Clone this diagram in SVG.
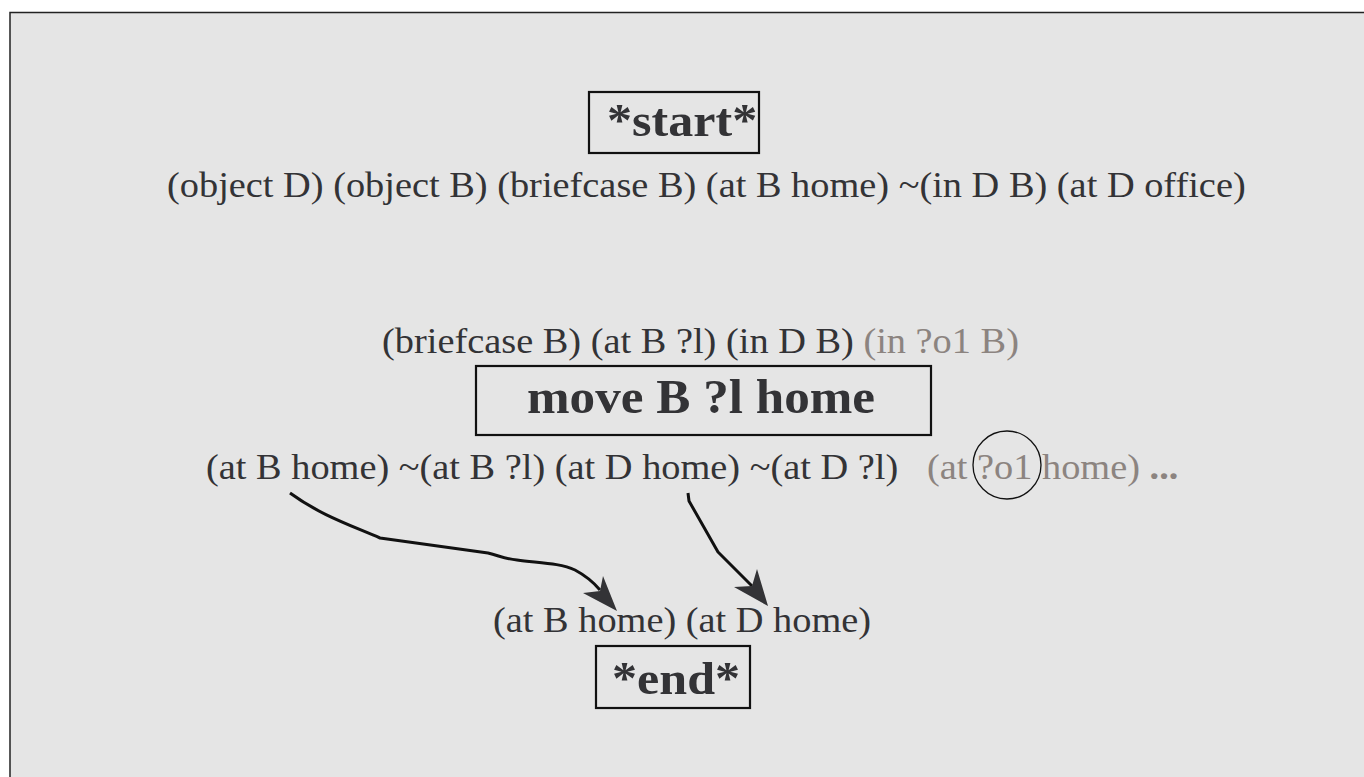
<svg xmlns="http://www.w3.org/2000/svg" width="1364" height="777" viewBox="0 0 1364 777">
<style>
.t{font-family:"Liberation Serif","Times New Roman",serif;font-size:36px;fill:#333336}
.b{font-family:"Liberation Serif","Times New Roman",serif;font-weight:bold;fill:#333336}
.g{fill:#8c8480}
.box{fill:none;stroke:#111;stroke-width:2.2}
.edge{fill:none;stroke:#111;stroke-width:3;stroke-linejoin:round}
.head{fill:#333336}
</style>
<rect width="1364" height="777" fill="#ffffff"/>
<rect x="10" y="12.5" width="1400" height="800" fill="#e5e5e5" stroke="#222" stroke-width="1.5"/>
<g id="start">
<rect class="box" x="589" y="92" width="170" height="61"/>
<text class="b" transform="translate(607,136) scale(1.066,1)" font-size="47">*start*</text>
<text class="t" transform="translate(167,197) scale(1.066,1)">(object D) (object B) (briefcase B) (at B home) ~(in D B) (at D office)</text>
</g>
<g id="move">
<text class="t" transform="translate(382,353) scale(1.066,1)">(briefcase B) (at B ?l) (in D B) <tspan class="g">(in ?o1 B)</tspan></text>
<rect class="box" x="476" y="366" width="455" height="69"/>
<text class="b" transform="translate(527,413) scale(1.066,1)" font-size="48">move B ?l home</text>
<text class="t" transform="translate(206,479) scale(1.066,1)">(at B home) ~(at B ?l) (at D home) ~(at D ?l)</text>
<text class="t g" transform="translate(927,479) scale(1.066,1)">(at ?o1 home) <tspan font-weight="bold">...</tspan></text>
<circle cx="1007" cy="465" r="34" fill="none" stroke="#111" stroke-width="1.3"/>
</g>
<g id="end">
<text class="t" transform="translate(493,632) scale(1.066,1)">(at B home) (at D home)</text>
<rect class="box" x="596" y="646" width="154" height="62"/>
<text class="b" transform="translate(612,694) scale(1.066,1)" font-size="47">*end*</text>
</g>
<g id="connectors">
<path class="edge" d="M290,493 C320,515 350,525 380,538 L488,553 C500,556 505,559 517,560 C540,563 560,563 575,570 Q590,578 600,590"/>
<polygon class="head" points="617,611 583,593 600,591 603,576"/>
<path class="edge" d="M688,493 L689,501 L718,552 L752,586"/>
<polygon class="head" points="768,606 734,587 752,586 757,569"/>
</g>
</svg>
